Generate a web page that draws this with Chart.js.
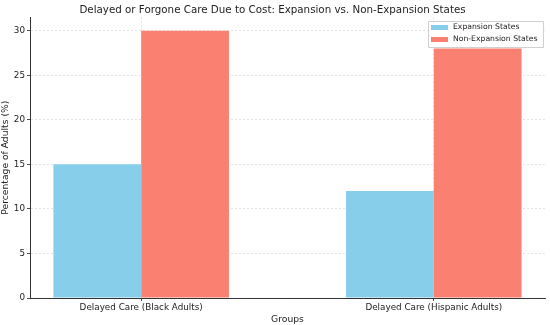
<!DOCTYPE html>
<html>
<head>
<meta charset="utf-8">
<script src="https://cdn.jsdelivr.net/npm/chart.js@4.4.1/dist/chart.umd.min.js"></script>
<style>
  html, body { margin: 0; padding: 0; background: #fff; }
  #wrap { width: 550px; height: 325px; }
</style>
</head>
<body>
<div id="wrap"><canvas id="chart"></canvas></div>
<script>
// data
const categories = ['Delayed Care (Black Adults)', 'Delayed Care (Hispanic Adults)'];
const expansionValues = [15, 12];
const nonExpansionValues = [30, 28];
const yTicks = [0, 5, 10, 15, 20, 25, 30];

const FONT = 'DejaVu Sans';
const TEXT = '#222';

// legend drawn inside the plot, top right (like matplotlib)
const boxLegend = {
    id: 'boxLegend',
    afterDraw: function (chart) {
        const ctx = chart.ctx;
        const x0 = 428, y0 = 21, w = 115, h = 26;
        ctx.save();
        ctx.fillStyle = 'rgba(255,255,255,0.85)';
        ctx.strokeStyle = '#d0d0d0';
        ctx.lineWidth = 1;
        ctx.beginPath();
        ctx.rect(x0 + 0.5, y0 + 0.5, w, h);
        ctx.fill();
        ctx.stroke();
        ctx.font = '7.7px ' + FONT;
        ctx.textBaseline = 'middle';
        chart.data.datasets.forEach(function (ds, i) {
            const cy = y0 + 6.5 + i * 12;
            ctx.fillStyle = ds.backgroundColor;
            ctx.fillRect(x0 + 3, cy - 2.5, 17, 5);
            ctx.fillStyle = TEXT;
            ctx.fillText(ds.label, x0 + 25, cy);
        });
        ctx.restore();
    }
};

new Chart(document.getElementById('chart').getContext('2d'), {
    type: 'bar',
    data: {
        datasets: [{
            label: 'Expansion States',
            data: expansionValues.map(function (v, i) { return { x: i, y: v }; }),
            backgroundColor: '#87CEEB'
        }, {
            label: 'Non-Expansion States',
            data: nonExpansionValues.map(function (v, i) { return { x: i, y: v }; }),
            backgroundColor: '#FA8072'
        }]
    },
    options: {
        responsive: true,
        maintainAspectRatio: false,
        animation: false,
        layout: { padding: { left: 0, right: 5, top: 0, bottom: 0 } },
        datasets: {
            bar: { categoryPercentage: 0.6, barPercentage: 1.0 }
        },
        plugins: {
            legend: { display: false },
            tooltip: { enabled: false },
            title: {
                display: true,
                text: 'Delayed or Forgone Care Due to Cost: Expansion vs. Non-Expansion States',
                color: TEXT,
                font: { family: FONT, size: 10.3, weight: 'normal' },
                padding: { top: 4, bottom: 1 }
            }
        },
        scales: {
            x: {
                type: 'linear',
                min: -0.38,
                max: 1.38,
                offset: false,
                afterBuildTicks: function (axis) {
                    axis.ticks = categories.map(function (c, i) { return { value: i }; });
                },
                afterFit: function (axis) { axis.height = 27; },
                ticks: {
                    color: TEXT,
                    font: { family: FONT, size: 8.8 },
                    padding: 1,
                    maxRotation: 0,
                    autoSkip: false,
                    callback: function (v) { return categories[v] !== undefined ? categories[v] : ''; }
                },
                grid: { offset: false, color: '#dcdcdc', tickColor: TEXT, tickLength: 3, lineWidth: 0.8 },
                border: { color: '#333', width: 1, dash: [2, 2] },
                title: {
                    display: true,
                    text: 'Groups',
                    color: TEXT,
                    font: { family: FONT, size: 9.2 },
                    padding: { top: 1, bottom: 0 }
                }
            },
            y: {
                min: 0,
                max: 31.5,
                afterBuildTicks: function (axis) {
                    axis.ticks = yTicks.map(function (v) { return { value: v }; });
                },
                afterFit: function (axis) { axis.width = 30; },
                ticks: {
                    color: TEXT,
                    font: { family: FONT, size: 8.8 },
                    padding: 2
                },
                grid: { color: '#dcdcdc', tickColor: TEXT, tickLength: 3, lineWidth: 0.8 },
                border: { color: '#333', width: 1, dash: [2, 2] },
                title: {
                    display: true,
                    text: 'Percentage of Adults (%)',
                    color: TEXT,
                    font: { family: FONT, size: 9.2 },
                    padding: { top: 0, bottom: 1 }
                }
            }
        }
    },
    plugins: [boxLegend]
});
</script>
</body>
</html>
